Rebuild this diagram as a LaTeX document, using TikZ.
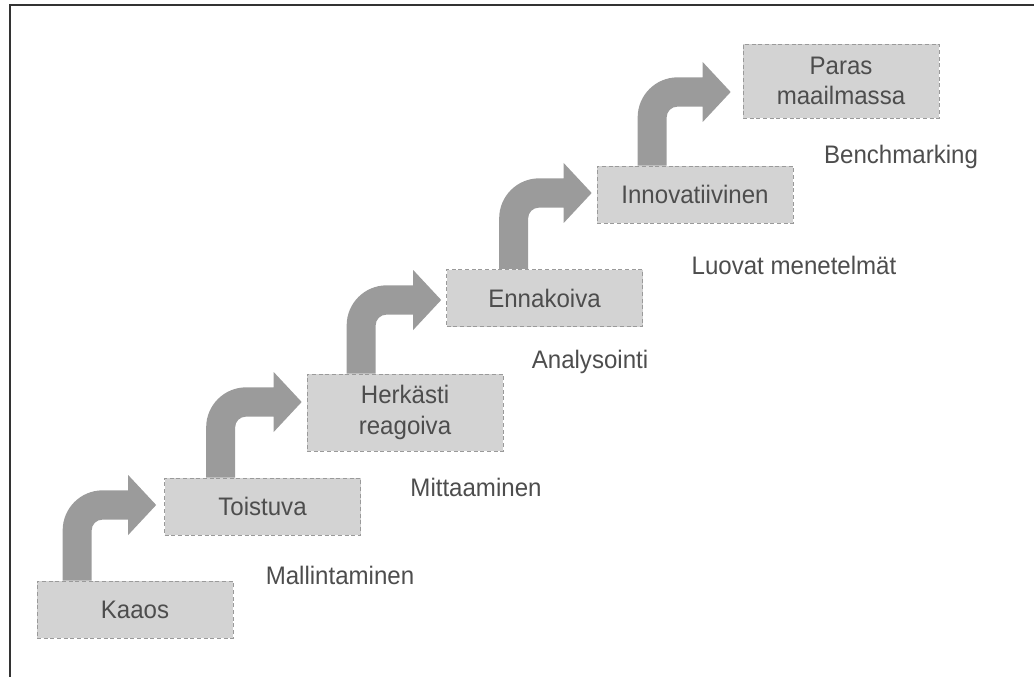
\documentclass[tikz,border=0pt]{standalone}
\usepackage{fontspec}
\setmainfont{Liberation Sans}[FakeStretch=0.95]
\usetikzlibrary{calc}
\definecolor{boxfill}{HTML}{D3D3D3}
\definecolor{boxline}{HTML}{9A9A9A}
\definecolor{arrowgray}{HTML}{9B9B9B}
\definecolor{txtgray}{HTML}{4D4D4D}
\definecolor{framegray}{HTML}{333333}
\def\arT{11pt}
\def\arW{21.75pt}
\def\arR{30pt}
\def\arr{8pt}
\def\arHL{21pt}
\def\arHH{22.5pt}
\newcommand\stairarrow[2]{%
  \fill[arrowgray] let \p1=(#1), \p2=(#2) in
    (\x1,\y1) -- (\x1,\y2+\arT-\arR)
    .. controls (\x1,\y2+\arT-\arR+0.5523*\arR) and (\x1+\arR-0.5523*\arR,\y2+\arT) .. (\x1+\arR,\y2+\arT)
    -- (\x2-\arHL,\y2+\arT) -- (\x2-\arHL,\y2+\arHH) -- (\x2,\y2)
    -- (\x2-\arHL,\y2-\arHH) -- (\x2-\arHL,\y2-\arT)
    -- (\x1+\arW+\arr,\y2-\arT)
    .. controls (\x1+\arW+\arr-0.5523*\arr,\y2-\arT) and (\x1+\arW,\y2-\arT-\arr+0.5523*\arr) .. (\x1+\arW,\y2-\arT-\arr)
    -- (\x1+\arW,\y1) -- cycle;}
\tikzset{
  stepbox/.style={fill=boxfill, draw=boxline, densely dashed, line width=0.5pt,
    minimum width=147pt, minimum height=42.75pt, inner sep=0pt,
    text=txtgray, align=center, font=\fontsize{19}{23}\selectfont},
  steplabel/.style={text=txtgray, inner sep=0pt, font=\fontsize{19}{23}\selectfont},
  frameline/.style={draw=framegray, line width=1.5pt}
}
\begin{document}
\begin{tikzpicture}[x=0.75pt,y=-0.75pt]
\useasboundingbox (0,0) rectangle (1034,677);
\coordinate (f1) at (10,677);
\coordinate (f2) at (10,5);
\coordinate (f3) at (1034,5);
\draw[frameline] (f1) -- (f2) -- (f3);

\node[stepbox] (kaaos) at (135,609.5) {Kaaos};
\node[stepbox] (toistuva) at (262.5,506.5) {Toistuva};
\node[stepbox, minimum height=57.75pt] (herkasti) at (405,412.5) {Herkästi\\reagoiva};
\node[stepbox] (ennakoiva) at (544.5,298) {Ennakoiva};
\node[stepbox] (innovatiivinen) at (695,194.5) {Innovatiivinen};
\node[stepbox, minimum height=55.5pt] (paras) at (841,81) {Paras\\maailmassa};

\coordinate (s1) at ($(kaaos.north west)+(26,0)$);
\coordinate (t1) at ($(toistuva.west)+(-8,-1.5)$);
\coordinate (s2) at ($(toistuva.north west)+(42,0)$);
\coordinate (t2) at ($(herkasti.west)+(-5,-10.5)$);
\coordinate (s3) at ($(herkasti.north west)+(40,0)$);
\coordinate (t3) at ($(ennakoiva.west)+(-5,2)$);
\coordinate (s4) at ($(ennakoiva.north west)+(53,0)$);
\coordinate (t4) at ($(innovatiivinen.west)+(-5,-1.5)$);
\coordinate (s5) at ($(innovatiivinen.north west)+(41,0)$);
\coordinate (t5) at ($(paras.west)+(-12,11)$);
\stairarrow{s1}{t1}
\stairarrow{s2}{t2}
\stairarrow{s3}{t3}
\stairarrow{s4}{t4}
\stairarrow{s5}{t5}

\node[steplabel] (l1) at (340,575) {Mallintaminen};
\node[steplabel] (l2) at (476,487) {Mittaaminen};
\node[steplabel] (l3) at (590,362) {Analysointi};
\node[steplabel] (l4) at (794,265) {Luovat menetelmät};
\node[steplabel] (l5) at (901,157) {Benchmarking};
\end{tikzpicture}
\end{document}
